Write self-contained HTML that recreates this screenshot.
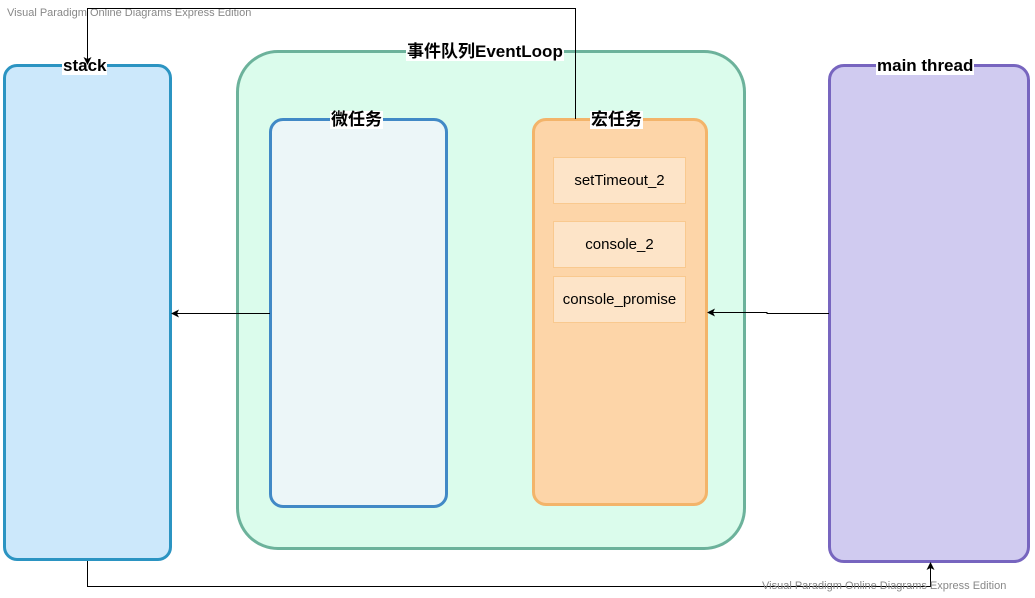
<!DOCTYPE html>
<html><head><meta charset="utf-8"><style>
body{margin:0;width:1035px;height:598px;background:#fff;position:relative;overflow:hidden;font-family:"Liberation Sans","Noto Sans CJK SC",sans-serif}
.b{position:absolute;box-sizing:border-box}
.t{position:absolute;background:#fff;font-weight:bold;font-size:17px;line-height:18px;padding:0 1px;color:#000;white-space:nowrap}
.it{position:absolute;box-sizing:border-box;left:553px;width:133px;height:47px;background:#fde4c8;border:1px solid #f9c98f;font-size:15px;display:flex;align-items:center;justify-content:center}
.wm{position:absolute;font-size:11px;color:#888;white-space:nowrap}
</style></head><body>
<div class="wm" style="left:7px;top:7px">Visual Paradigm Online Diagrams Express Edition</div>
<div class="b" style="left:3px;top:64px;width:169px;height:497px;background:#cce8fb;border:3px solid #2b94c2;border-radius:14px"></div>
<div class="b" style="left:236px;top:50px;width:510px;height:500px;background:#dbfcec;border:3px solid #6cb29b;border-radius:42px"></div>
<div class="b" style="left:269px;top:118px;width:179px;height:390px;background:#ecf6f8;border:3px solid #4189c6;border-radius:14px"></div>
<div class="b" style="left:532px;top:118px;width:176px;height:388px;background:#fdd5a8;border:3px solid #f3b46a;border-radius:14px"></div>
<div class="b" style="left:828px;top:64px;width:202px;height:499px;background:#d0cbf0;border:3px solid #7765bf;border-radius:16px"></div>
<div class="it" style="top:157px">setTimeout_2</div>
<div class="it" style="top:221px">console_2</div>
<div class="it" style="top:276px">console_promise</div>
<div class="t" style="left:62px;top:57px">stack</div>
<div class="t" style="left:406px;top:43px">事件队列EventLoop</div>
<div class="t" style="left:330px;top:111px">微任务</div>
<div class="t" style="left:590px;top:111px">宏任务</div>
<div class="t" style="left:876px;top:57px">main thread</div>
<svg width="1035" height="598" style="position:absolute;left:0;top:0">
<g stroke="#000" stroke-width="1" fill="none">
<path d="M575.5 119V8.5H87.5V60"/>
<path d="M270 313.5H176"/>
<path d="M829 313.5H767V312.5H712"/>
<path d="M87.5 561V586.5H930.5V568"/>
</g>
<g fill="#000">
<path d="M87.5 65l-4-8 4 2 4-2z"/>
<path d="M171 313.5l8-4-2 4 2 4z"/>
<path d="M707 312.5l8-4-2 4 2 4z"/>
<path d="M930.5 562l-4 8 4-2 4 2z"/>
</g>
</svg>
<div class="wm" style="left:762px;top:580px">Visual Paradigm Online Diagrams Express Edition</div>
</body></html>
